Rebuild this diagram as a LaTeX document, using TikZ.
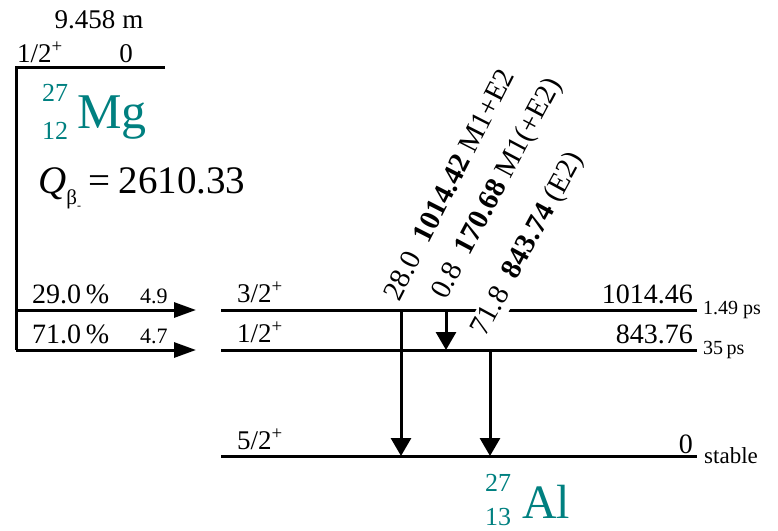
\documentclass[tikz,border=0pt]{standalone}
\usepackage{fontspec}
\setmainfont{Liberation Serif}
\usetikzlibrary{arrows.meta}
\definecolor{isoteal}{RGB}{0,128,128}
\newcommand{\fsz}[1]{\fontsize{#1}{#1}\selectfont}
\tikzset{
  level/.style={line width=3pt},
  feed/.style={line width=3pt,-{Triangle[length=22pt,width=15pt]}},
  gam/.style={line width=3pt,-{Triangle[length=18pt,width=20pt]}},
  txt/.style={inner sep=0pt,font=\fsz{27}},
  small/.style={inner sep=0pt,font=\fsz{21}},
  rot/.style={inner sep=0pt,font=\fsz{29},anchor=base west},
  iso/.style={inner sep=0pt,text=isoteal},
}
\begin{document}
\begin{tikzpicture}[x=1pt,y=-1pt]
\useasboundingbox (0,0) rectangle (778,530);
% coordinates
\coordinate (mgL) at (16,67);
\coordinate (mgR) at (165,67);
\coordinate (b1s) at (16,310);
\coordinate (b1e) at (196,310);
\coordinate (b2s) at (16,350);
\coordinate (b2e) at (196,350);
\coordinate (l1L) at (221,310);
\coordinate (l1R) at (697,310);
\coordinate (l2L) at (221,350);
\coordinate (l2R) at (697,350);
\coordinate (l0L) at (221,456);
\coordinate (l0R) at (697,456);
\coordinate (t1s) at (401,310);
\coordinate (t1e) at (401,456);
\coordinate (t2s) at (446,310);
\coordinate (t2e) at (446,350);
\coordinate (t3s) at (490,350);
\coordinate (t3e) at (490,456);
% parent level
\draw[level] (mgR) -- (mgL) -- (b2s);
\draw[feed] (b1s) -- (b1e);
\draw[feed] (b2s) -- (b2e);
% daughter levels
\draw[level] (l1L) -- (l1R);
\draw[level] (l2L) -- (l2R);
\draw[level] (l0L) -- (l0R);
% gamma transitions
\draw[gam] (t1s) -- (t1e);
\draw[gam] (t2s) -- (t2e);
\draw[gam] (t3s) -- (t3e);
% parent texts
\node[txt,anchor=base] (hl) at (99,28) {9.458 m};
\node[txt,anchor=base west] (mgspin) at (17,62) {1/2\textsuperscript{+}};
\node[txt,anchor=base] (mgE) at (126,62) {0};
\node[iso,font=\fsz{26}] (mgA) at (55,93) {27};
\node[iso,font=\fsz{26}] (mgZ) at (55,131) {12};
\node[iso,font=\fsz{50},anchor=base west] (mg) at (77,128) {Mg};
\node[inner sep=0pt,font=\fsz{39},anchor=base west] (Q) at (38,193)
  {\textit{Q}\raisebox{-0.3em}{\fsz{21}β\raisebox{-0.25em}{\fsz{12}-}}\hspace{0.2em}=\hspace{0.2em}2610.33};
% feeding texts
\node[txt,font=\fsz{28},anchor=base west] (p1) at (32,303) {29.0\,\%};
\node[small,font=\fsz{22},anchor=base west] (f1) at (140,303) {4.9};
\node[txt,font=\fsz{28},anchor=base west] (p2) at (32,343) {71.0\,\%};
\node[small,font=\fsz{22},anchor=base west] (f2) at (140,343) {4.7};
% level texts
\node[txt,anchor=base west] (s1) at (237,302) {3/2\textsuperscript{+}};
\node[txt,anchor=base west] (s2) at (237,342) {1/2\textsuperscript{+}};
\node[txt,anchor=base west] (s0) at (237,449) {5/2\textsuperscript{+}};
\node[txt,font=\fsz{28},anchor=base east] (e1) at (693,303) {1014.46};
\node[txt,font=\fsz{28},anchor=base east] (e2) at (693,343) {843.76};
\node[txt,font=\fsz{28},anchor=base east] (e0) at (693,453) {0};
\node[small,font=\fsz{20},anchor=base west] (h1) at (703,314) {1.49 ps};
\node[small,font=\fsz{20},anchor=base west] (h2) at (703,354) {35\,ps};
\node[small,font=\fsz{23},anchor=base west] (h0) at (704,463) {stable};
% gamma labels
\node[rot,rotate=63] (g1) at (399,303) {28.0\enspace\textbf{1014.42} M1+E2};
\node[rot,rotate=62] (g2) at (446,301) {0.8\enspace\textbf{170.68} M1(+E2)};
\node[rot,rotate=61.5,fill=white,inner sep=1.5pt] (g3) at (485,339) {71.8\enspace\textbf{843.74} (E2)};
% daughter nucleus
\node[iso,font=\fsz{26}] (alA) at (498,483) {27};
\node[iso,font=\fsz{26}] (alZ) at (498,517) {13};
\node[iso,font=\fsz{48},anchor=base west] (al) at (522,518) {Al};
\end{tikzpicture}
\end{document}
